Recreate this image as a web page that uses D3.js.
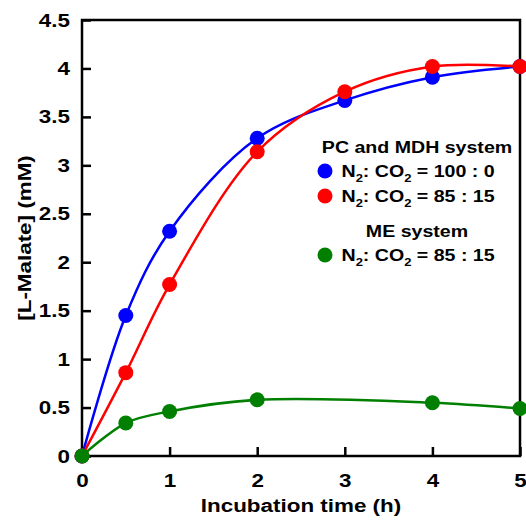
<!DOCTYPE html>
<html><head><meta charset="utf-8">
<script src="https://cdn.jsdelivr.net/npm/d3@7"></script>
<style>body{margin:0;background:#fff}svg{display:block}</style>
</head><body><svg id="c" width="526" height="521"></svg>
<script>
const times = [0, 0.5, 1, 2, 3, 4, 5];
const blueVals = [0, 1.45, 2.32, 3.28, 3.67, 3.91, 4.02];
const redVals = [0, 0.86, 1.77, 3.14, 3.76, 4.02, 4.02];
const greenTimes = [0, 0.5, 1, 2, 4, 5];
const greenVals = [0, 0.34, 0.46, 0.58, 0.55, 0.49];
const xTicks = [0, 1, 2, 3, 4, 5];
const yTicks = [0, 0.5, 1, 1.5, 2, 2.5, 3, 3.5, 4, 4.5];
const xTitle = "Incubation time (h)";
const yTitle = "[L-Malate] (mM)";
const legendHeader1 = "PC and MDH system";
const legendHeader2 = "ME system";
const legendRatios = ["100 : 0", "85 : 15", "85 : 15"];

const FONT = "'Liberation Sans', Arial, sans-serif";
const S = 1.18;
const svg = d3.select("#c");
const x = d3.scaleLinear().domain([0, 5]).range([82, 520]);
const y = d3.scaleLinear().domain([0, 4.5]).range([456, 20]);

// axes (inward ticks)
const gx = svg.append("g").attr("transform", `translate(0,${y(0)})`)
  .call(d3.axisBottom(x).tickValues(xTicks).tickSize(-9).tickPadding(17).tickFormat(d3.format("~g")));
const gy = svg.append("g").attr("transform", `translate(${x(0)},0)`)
  .call(d3.axisLeft(y).tickValues(yTicks).tickSize(-9).tickPadding(12).tickFormat(d3.format("~g")));
[gx, gy].forEach(g => {
  g.select(".domain").remove();
  g.selectAll(".tick line").attr("stroke", "#000").attr("stroke-width", 2.5);
  g.selectAll(".tick text").attr("fill", "#000").style("font-family", FONT)
    .style("font-size", "19px").style("font-weight", "bold");
});
gx.selectAll(".tick text").each(function () {
  const t = d3.select(this); const yy = +t.attr("y");
  t.attr("y", 0).attr("transform", `translate(0,${yy}) scale(${S},1)`);
});
gy.selectAll(".tick text").each(function () {
  const t = d3.select(this); const xx = +t.attr("x");
  t.attr("x", 0).attr("transform", `translate(${xx},0) scale(${S},1)`);
});

// frame
svg.append("rect").attr("x", x(0)).attr("y", y(4.5))
  .attr("width", x(5) - x(0)).attr("height", y(0) - y(4.5))
  .attr("fill", "none").attr("stroke", "#000").attr("stroke-width", 2.5);

// titles
function stretchedText(px, py, rot, txt, size, anchor) {
  const g = svg.append("g").attr("transform", `translate(${px},${py}) rotate(${rot}) scale(${S},1)`);
  return g.append("text").attr("text-anchor", anchor || "middle")
    .style("font-family", FONT).style("font-size", size + "px").style("font-weight", "bold")
    .attr("fill", "#000").text(txt);
}
stretchedText((x(0) + x(5)) / 2, 512, 0, xTitle, 19);
stretchedText(31, (y(0) + y(4.5)) / 2, -90, yTitle, 19);

// series
const series = [
  {t: times, v: blueVals, color: "#0000ff"},
  {t: times, v: redVals, color: "#ff0000"},
  {t: greenTimes, v: greenVals, color: "#007f00"}
];
const line = d3.line().x(d => x(d[0])).y(d => y(d[1])).curve(d3.curveCatmullRom.alpha(0.5));
series.forEach(s => {
  const pts = s.t.map((t, i) => [t, s.v[i]]);
  svg.append("path").datum(pts).attr("d", line).attr("fill", "none")
    .attr("stroke", s.color).attr("stroke-width", 2.5);
  svg.append("g").selectAll("circle").data(pts).join("circle")
    .attr("cx", d => x(d[0])).attr("cy", d => y(d[1])).attr("r", 7.5).attr("fill", s.color);
});

// legend
const LS = 16.6;
stretchedText(417, 153, 0, legendHeader1, LS);
stretchedText(417, 237, 0, legendHeader2, LS);
const entries = [
  {cy: 171, color: "#0000ff", ratio: legendRatios[0]},
  {cy: 196, color: "#ff0000", ratio: legendRatios[1]},
  {cy: 255, color: "#007f00", ratio: legendRatios[2]}
];
entries.forEach(e => {
  svg.append("circle").attr("cx", 325).attr("cy", e.cy).attr("r", 7.5).attr("fill", e.color);
  const t = stretchedText(341.5, e.cy + 6, 0, null, LS, "start");
  t.append("tspan").text("N");
  t.append("tspan").attr("dy", 5).style("font-size", "11px").text("2");
  t.append("tspan").attr("dy", -5).text(": CO");
  t.append("tspan").attr("dy", 5).style("font-size", "11px").text("2");
  t.append("tspan").attr("dy", -5).text(" = " + e.ratio);
});
</script></body></html>
